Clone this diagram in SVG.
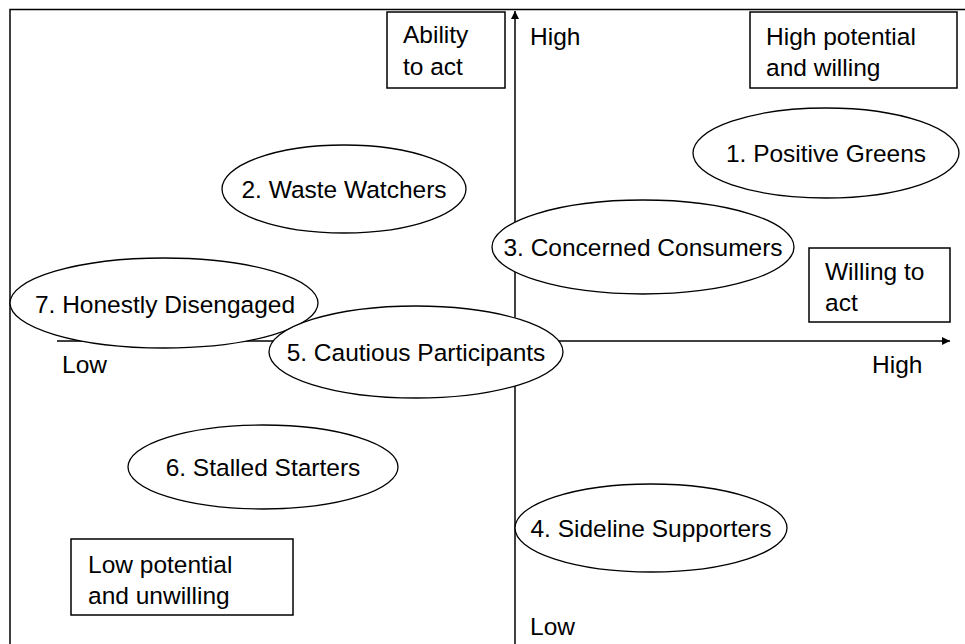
<svg xmlns="http://www.w3.org/2000/svg" width="965" height="644" viewBox="0 0 965 644">
  <defs>
    <marker id="arrow" viewBox="0 0 10 10" refX="10" refY="5" markerWidth="8" markerHeight="8" markerUnits="userSpaceOnUse" orient="auto">
      <path d="M0,0 L10,5 L0,10 z" fill="#000"/>
    </marker>
    <style>
      .frame { fill: none; stroke: #000; stroke-width: 1.5; }
      .box { fill: #fff; stroke: #000; stroke-width: 1.5; }
      .seg { fill: #fff; stroke: #000; stroke-width: 1.3; }
      .axis { stroke: #000; stroke-width: 1.5; fill: none; }
      text { font-family: "Liberation Sans", Arial, Helvetica, sans-serif; font-size: 24.5px; fill: #000; }
      .c { text-anchor: middle; }
    </style>
  </defs>

  <rect width="965" height="644" fill="#fff"/>

  <!-- outer frame: top and left edges only, the rest runs off the sheet -->
  <path class="frame" d="M10,644 L10,9.5 L965,9.5"/>

  <!-- axes -->
  <g id="connectors">
    <line class="axis" x1="515" y1="644" x2="515" y2="11" marker-end="url(#arrow)"/>
    <line class="axis" x1="57" y1="341" x2="950" y2="341" marker-end="url(#arrow)"/>
  </g>

  <!-- axis labels -->
  <g id="axis-labels">
    <text x="530" y="45">High</text>
    <text x="872" y="373">High</text>
    <text x="62" y="373">Low</text>
    <text x="530" y="635">Low</text>
  </g>

  <!-- label boxes -->
  <g id="box-ability">
    <rect class="box" x="387" y="12" width="118" height="76"/>
    <text x="403" y="43">Ability</text>
    <text x="403" y="75">to act</text>
  </g>
  <g id="box-high-willing">
    <rect class="box" x="750" y="12" width="207" height="76"/>
    <text x="766" y="45">High potential</text>
    <text x="766" y="76">and willing</text>
  </g>
  <g id="box-willing">
    <rect class="box" x="809" y="248" width="141" height="74"/>
    <text x="825" y="280">Willing to</text>
    <text x="825" y="311">act</text>
  </g>
  <g id="box-low-unwilling">
    <rect class="box" x="71" y="539" width="222" height="76"/>
    <text x="88" y="573">Low potential</text>
    <text x="88" y="604">and unwilling</text>
  </g>

  <!-- segments -->
  <g id="seg-1">
    <ellipse class="seg" cx="826" cy="153" rx="133" ry="45"/>
    <text class="c" x="826" y="162">1. Positive Greens</text>
  </g>
  <g id="seg-2">
    <ellipse class="seg" cx="344" cy="189" rx="122" ry="44"/>
    <text class="c" x="344" y="198">2. Waste Watchers</text>
  </g>
  <g id="seg-3">
    <ellipse class="seg" cx="643" cy="247" rx="151" ry="47"/>
    <text class="c" x="643" y="256">3. Concerned Consumers</text>
  </g>
  <g id="seg-7">
    <ellipse class="seg" cx="164" cy="303" rx="154" ry="45"/>
    <text class="c" x="165" y="313">7. Honestly Disengaged</text>
  </g>
  <g id="seg-5">
    <ellipse class="seg" cx="416" cy="352" rx="147" ry="46"/>
    <text class="c" x="416" y="361">5. Cautious Participants</text>
  </g>
  <g id="seg-6">
    <ellipse class="seg" cx="263" cy="467" rx="135" ry="42"/>
    <text class="c" x="263" y="476">6. Stalled Starters</text>
  </g>
  <g id="seg-4">
    <ellipse class="seg" cx="651" cy="528" rx="136" ry="44"/>
    <text class="c" x="651" y="537">4. Sideline Supporters</text>
  </g>
</svg>
